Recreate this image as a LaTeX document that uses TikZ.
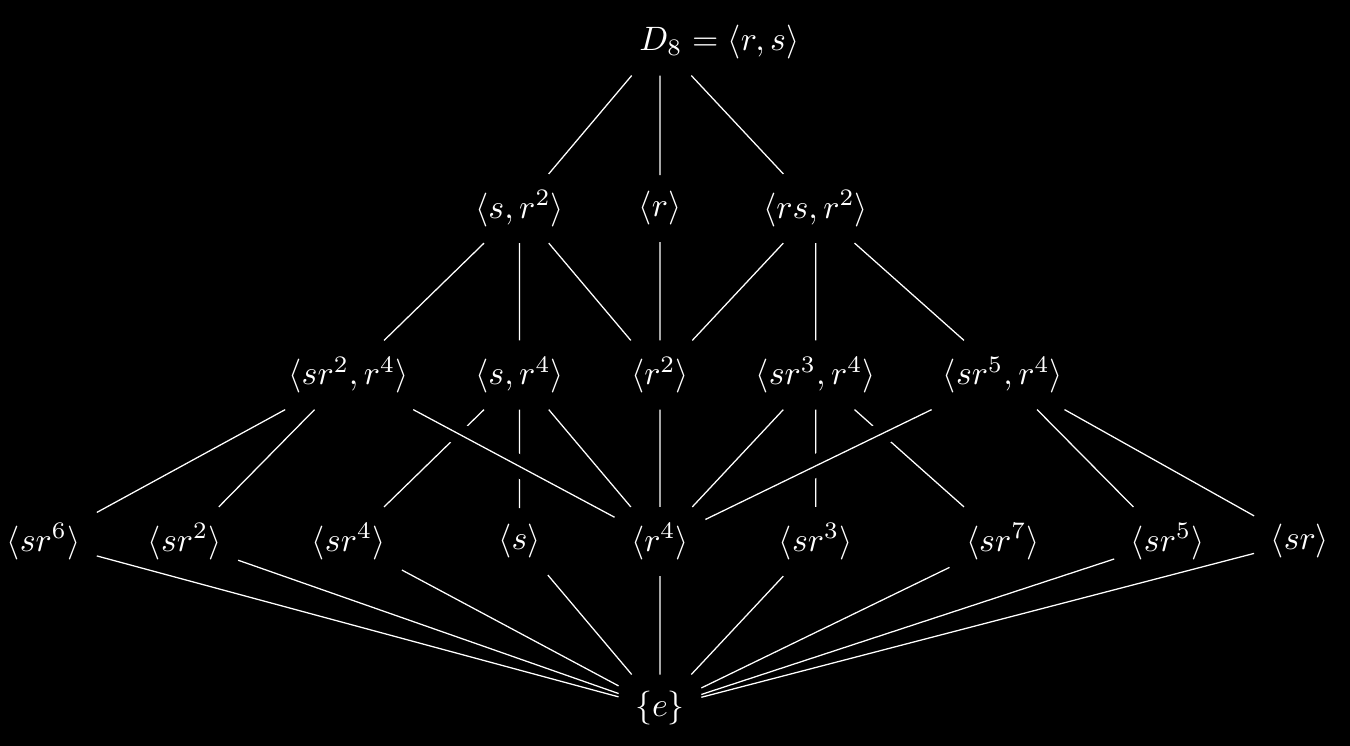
\documentclass[tikz,border=0pt]{standalone}
\begin{document}
\begin{tikzpicture}
        [
            every node/.style = {text = white, inner sep = 4.7pt, scale = 1.07},
            link/.style = {draw = white},
            over/.style = {preaction = {draw = black, line width = 7pt}}
        ]
        
        \path [use as bounding box, fill = black] (-7.333,0.467) rectangle (7.667,-7.822);
        
        \node (top) at (0,0) {\phantom{$\langle r\rangle$}};
        \node (d8) at (0.66,0) {$D_8 = \langle r, s\rangle$};
        
        \node (sR) at (-1.56,-1.85) {$\langle s, r^2\rangle$};
        \node (r) at (0,-1.85) {$\langle r\rangle$};
        \node (rsR) at (1.73,-1.85) {$\langle rs, r^2\rangle$};
        
        \node (sr2R) at (-3.46,-3.70) {$\langle sr^2, r^4\rangle$};
        \node (sR4) at (-1.56,-3.70) {$\langle s, r^4\rangle$};
        \node (r2) at (0,-3.70) {$\langle r^2\rangle$};
        \node (sr3R) at (1.73,-3.70) {$\langle sr^3, r^4\rangle$};
        \node (sr5R) at (3.81,-3.70) {$\langle sr^5, r^4\rangle$};
        
        \node (sr6) at (-6.85,-5.55) {$\langle sr^6\rangle$};
        \node (sr2) at (-5.28,-5.55) {$\langle sr^2\rangle$};
        \node (sr4) at (-3.46,-5.55) {$\langle sr^4\rangle$};
        \node (s) at (-1.56,-5.55) {$\langle s\rangle$};
        \node (r4) at (0,-5.55) {$\langle r^4\rangle$};
        \node (sr3) at (1.73,-5.55) {$\langle sr^3\rangle$};
        \node (sr7) at (3.81,-5.55) {$\langle sr^7\rangle$};
        \node (sr5) at (5.64,-5.55) {$\langle sr^5\rangle$};
        \node (sr1) at (7.11,-5.55) {$\langle sr\rangle$};
        
        \node (e) at (0,-7.40) {$\{e\}$};
        
        \draw [link] (top) -- (sR) (top) -- (r) (top) -- (rsR);
        \draw [link] (sR) -- (sr2R) (sR) -- (sR4) (sR) -- (r2);
        \draw [link] (r) -- (r2);
        \draw [link] (rsR) -- (r2) (rsR) -- (sr3R) (rsR) -- (sr5R);
        
        \draw [link] (sr2R) -- (sr6) (sr2R) -- (sr2);
        \draw [link] (sR4) -- (sr4) (sR4) -- (s) (sR4) -- (r4);
        \draw [link] (r2) -- (r4);
        \draw [link] (sr3R) -- (r4) (sr3R) -- (sr3) (sr3R) -- (sr7);
        \draw [link] (sr5R) -- (sr5) (sr5R) -- (sr1);
        % these two pass over the others
        \draw [link, over] (sr2R) -- (r4);
        \draw [link, over] (sr5R) -- (r4);
        
        \draw [link] (sr6) -- (e) (sr2) -- (e) (sr4) -- (e) (s) -- (e) (r4) -- (e)
            (sr3) -- (e) (sr7) -- (e) (sr5) -- (e) (sr1) -- (e);
    \end{tikzpicture}
\end{document}
